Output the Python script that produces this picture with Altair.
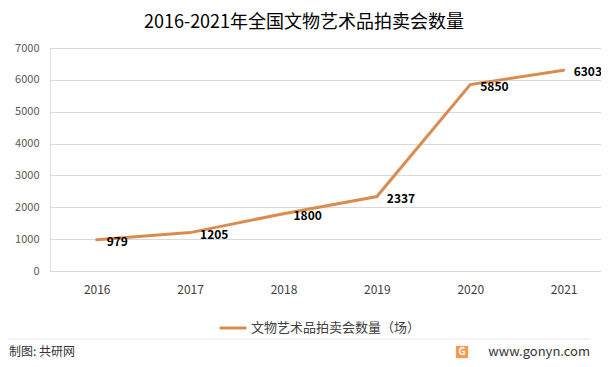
import altair as alt
import pandas as pd

years = [2016, 2017, 2018, 2019, 2020, 2021]
counts = [979, 1205, 1800, 2337, 5850, 6303]
series_name = "文物艺术品拍卖会数量（场）"
title_text = "2016-2021年全国文物艺术品拍卖会数量"
source_text = "制图: 共研网"
site_text = "www.gonyn.com"
y_ticks = [0, 1000, 2000, 3000, 4000, 5000, 6000, 7000]

LINE = "#DA8C50"
FONT = "Noto Sans CJK SC"

df = pd.DataFrame({"year": years, "count": counts, "series": [series_name] * len(years)})
df["label"] = df["count"].astype(str)

x_enc = alt.X("year:Q", scale=alt.Scale(domain=[2015.5, 2021.4], nice=False, zero=False),
              axis=alt.Axis(values=years, format="d", title=None, grid=False, domain=False,
                            ticks=False, labelFontSize=12, labelColor="#404040",
                            labelPadding=13, labelFont=FONT, labelOverlap=False))
y_enc = alt.Y("count:Q", scale=alt.Scale(domain=[0, 7000], nice=False),
              axis=alt.Axis(values=y_ticks, format="d", title=None, domain=False, ticks=False,
                            grid=True, gridColor="#D9D9D9", labelFontSize=11, labelColor="#595959",
                            labelPadding=11, labelFont=FONT, labelOverlap=False))

base = alt.Chart(df)

line = base.mark_line(strokeWidth=3, strokeCap="round").encode(
    x=x_enc, y=y_enc,
    color=alt.Color("series:N", scale=alt.Scale(domain=[series_name], range=[LINE]),
                    legend=alt.Legend(title=None, orient="none", legendX=168, legendY=265,
                                      symbolType="stroke", symbolSize=729, symbolStrokeWidth=3,
                                      labelFontSize=13, labelColor="#404040", labelFont=FONT,
                                      labelOffset=3, padding=0, labelLimit=0)),
)

labels = base.mark_text(align="left", baseline="middle", dx=10, dy=2, fontWeight="bold",
                        fontSize=12, color="#000000", font=FONT).encode(
    x=x_enc, y=y_enc, text="label:N")

title = alt.Chart(pd.DataFrame({"t": [title_text]})).mark_text(
    fontSize=18, color="#000000", font=FONT, align="center", baseline="middle").encode(
    x=alt.value(254), y=alt.value(-25), text="t:N")

sep = alt.Chart(pd.DataFrame({"a": [0]})).mark_rule(color="#E6E6E6", strokeWidth=1).encode(
    x=alt.value(-42), x2=alt.value(540), y=alt.value(291))

src = alt.Chart(pd.DataFrame({"t": [source_text]})).mark_text(
    fontSize=12, color="#333333", font=FONT, align="left", baseline="middle").encode(
    x=alt.value(-41), y=alt.value(304), text="t:N")

site = alt.Chart(pd.DataFrame({"t": [site_text]})).mark_text(
    fontSize=13, color="#333333", font=FONT, align="right", baseline="middle").encode(
    x=alt.value(540), y=alt.value(304), text="t:N")

logo = alt.Chart(pd.DataFrame({"a": [0]})).mark_square(size=150, color="#F59A4E", opacity=1).encode(
    x=alt.value(412), y=alt.value(304))
logo_g = alt.Chart(pd.DataFrame({"t": ["G"]})).mark_text(
    fontSize=10, fontWeight="bold", color="#FFFFFF", font=FONT, align="center", baseline="middle").encode(
    x=alt.value(412), y=alt.value(304), text="t:N")

chart = alt.layer(line, labels, title, sep, src, site, logo, logo_g).properties(
    width=551, height=223,
    autosize=alt.AutoSizeParams(type="none"),
    padding={"left": 42, "top": 40, "right": 0, "bottom": 88},
).configure_view(stroke=None).configure(background="#FFFFFF")

chart.save("out.html", embed_options={"renderer": "svg", "actions": False})
